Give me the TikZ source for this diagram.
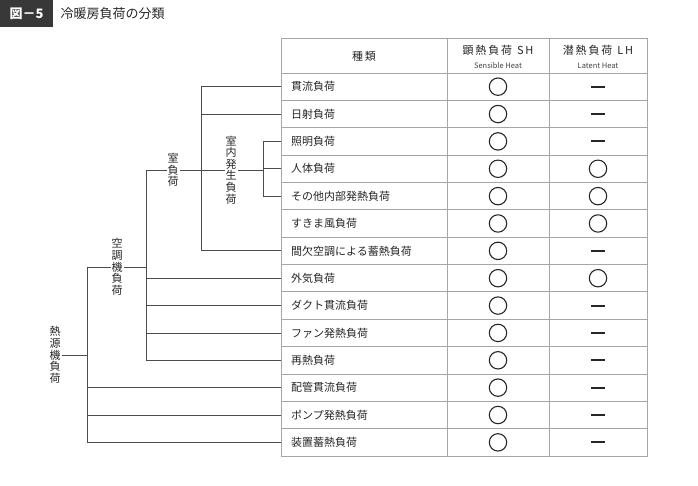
\documentclass[tikz,border=0pt]{standalone}
\usepackage{fontspec}
\setmainfont{Noto Sans CJK JP}
\begin{document}
\begin{tikzpicture}[x=1pt,y=-1pt,
  grid/.style={draw=gray!70,line width=0.8pt},
  tree/.style={draw=black!70,line width=0.7pt},
  lbl/.style={font=\fontsize{11}{12}\selectfont,text=black!85,inner sep=1pt},
  vlbl/.style={font=\fontsize{11}{11.6}\selectfont,text=black!85,align=center,inner sep=1pt,fill=white}]
\useasboundingbox (0,0) rectangle (698,485);
\coordinate (xa) at (201,0);
\coordinate (xb) at (263,0);
\coordinate (xc) at (146,0);
\coordinate (xd) at (87,0);
% title
\node[fill=black!78,text=white,font=\bfseries\fontsize{13}{14}\selectfont,minimum height=27,minimum width=53,anchor=north west,inner sep=0] (fig) at (0,0) {図－5};
\node[font=\fontsize{13}{14}\selectfont,text=black!85,anchor=west] (ttl) at (57,13.5) {冷暖房負荷の分類};
% table
\def\rt{73}\def\rh{27.36}
\draw[grid] (281,38) rectangle (647,456);
\draw[grid] (447,38) -- (447,456);
\draw[grid] (549,38) -- (549,456);
\foreach \i in {0,...,13} \draw[grid] (281,{\rt+\i*\rh}) -- (647,{\rt+\i*\rh});
\node[lbl] (h0) at (364,56) {種\,類};
\node[lbl,anchor=base] (h1) at (498,54) {顕\,熱\,負\,荷\ \ S\,H};
\node[font=\fontsize{7.5}{8}\selectfont,text=black!75] (h1s) at (498,66) {Sensible Heat};
\node[lbl,anchor=base] (h2) at (598,54) {潜\,熱\,負\,荷\ \ L\,H};
\node[font=\fontsize{7.5}{8}\selectfont,text=black!75] (h2s) at (598,66) {Latent Heat};
\foreach \t/\lh [count=\i] in {貫流負荷/0,日射負荷/0,照明負荷/0,人体負荷/1,その他内部発熱負荷/1,すきま風負荷/1,間欠空調による蓄熱負荷/0,外気負荷/1,ダクト貫流負荷/0,ファン発熱負荷/0,再熱負荷/0,配管貫流負荷/0,ポンプ発熱負荷/0,装置蓄熱負荷/0}{
  \pgfmathsetmacro\yc{\rt+(\i-0.5)*\rh}
  \node[lbl,anchor=west] (r\i) at (290,\yc) {\t};
  \coordinate (e\i) at (281,\yc);
  \draw[black!85,line width=1.1pt] (498,\yc) circle (8.7);
  \ifnum\lh=1 \draw[black!85,line width=1.1pt] (598,\yc) circle (8.7);
  \else \fill[black!85] (591,\yc-1) rectangle (605,\yc+1); \fi
}
% tree
\foreach \i in {1,2,7} \draw[tree] (xa|-e\i) -- (e\i);
\draw[tree] (xa|-e1) -- (xa|-e7);
\foreach \i in {3,4,5} \draw[tree] (xb|-e\i) -- (e\i);
\draw[tree] (xb|-e3) -- (xb|-e5);
\draw[tree] (201,170) -- (263,170);
\node[vlbl] (nai) at (231,170) {室\\内\\発\\生\\負\\荷};
\draw[tree] (146,170) -- (201,170);
\node[vlbl] (shitsu) at (173,170) {室\\負\\荷};
\draw[tree] (146,170) -- (xc|-e11);
\foreach \i in {8,...,11} \draw[tree] (xc|-e\i) -- (e\i);
\draw[tree] (87,267) -- (146,267);
\node[vlbl] (kucho) at (117,267) {空\\調\\機\\負\\荷};
\draw[tree] (87,267) -- (xd|-e14);
\foreach \i in {12,...,14} \draw[tree] (xd|-e\i) -- (e\i);
\node[vlbl] (netsu) at (55,355) {熱\\源\\機\\負\\荷};
\draw[tree] (netsu.east) -- (87,355);
\end{tikzpicture}
\end{document}
